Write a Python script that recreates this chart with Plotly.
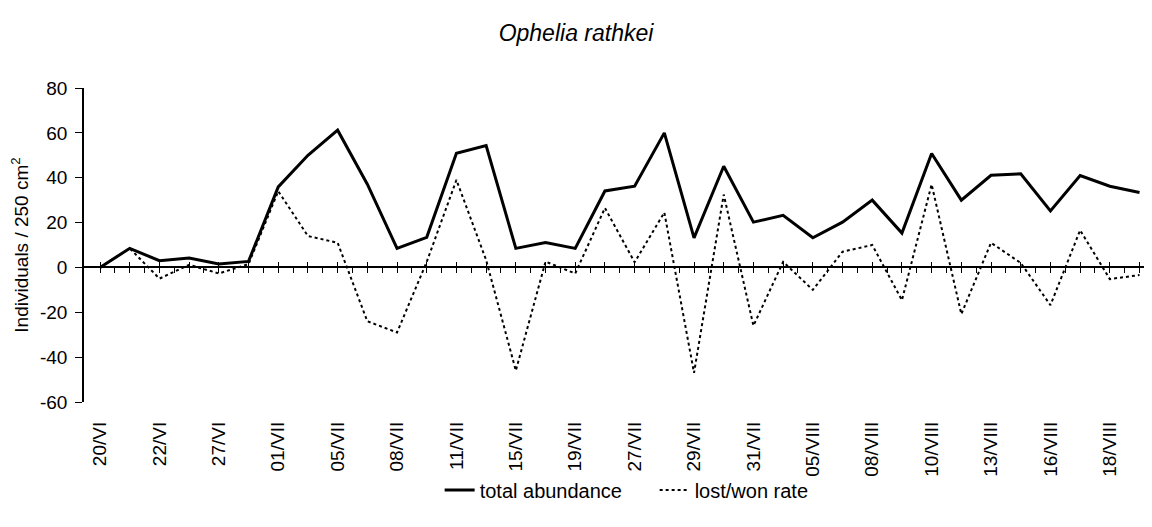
import plotly.graph_objects as go

# sampling dates (label shown on every second sample)
date_labels = ["20/VI", "22/VI", "27/VI", "01/VII", "05/VII", "08/VII", "11/VII",
               "15/VII", "19/VII", "27/VII", "29/VII", "31/VII", "05/VIII",
               "08/VIII", "10/VIII", "13/VIII", "16/VIII", "18/VIII"]

total_abundance = [0, 8.5, 3, 4.2, 1.5, 2.7, 35.9, 50, 61.2, 37.1, 8.5, 13.4,
                   50.9, 54.3, 8.5, 11.1, 8.5, 34.1, 36.2, 60, 13.2, 45.1, 20.2, 23.2,
                   13.2, 20.2, 30, 15.3, 50.8, 30, 41.1, 41.7, 25.2, 41, 36.2, 33.4]

lost_won_rate = [0, 8.5, -5, 1.2, -2.7, 1.5, 34, 14, 11, -24, -29, 2.5,
                 39, 3.3, -46, 2.6, -2.7, 26.5, 2.3, 24.5, -47, 32.5, -26, 2.5,
                 -10, 7, 10, -14.6, 37, -20.8, 11, 2, -16.8, 16.6, -5.2, -3.4]

y_ticks = [-60, -40, -20, 0, 20, 40, 60, 80]

x = list(range(len(total_abundance)))
label_pos = [2 * i for i in range(len(date_labels))]
half_steps = [i / 2 for i in range(2 * len(x) - 1)]

FONT = "Liberation Sans, Arial, sans-serif"
# page body has an 8px margin, so the figure is a bit smaller than the window
W, H = 1144, 519
x_range = [-0.54, 35.42]
y_lo, y_hi = y_ticks[0], y_ticks[-1]
zero_pos = (0 - y_lo) / (y_hi - y_lo)

fig = go.Figure()
fig.add_trace(go.Scatter(x=x, y=total_abundance, mode="lines", name="total abundance",
                         line=dict(color="black", width=3)))
fig.add_trace(go.Scatter(x=x, y=lost_won_rate, mode="lines", name="lost/won rate",
                         line=dict(color="black", width=2, dash="3px,3px")))

fig.update_layout(
    width=W, height=H,
    margin=dict(l=76, r=0, t=80, b=125),
    paper_bgcolor="white", plot_bgcolor="white",
    font=dict(family=FONT, size=19, color="black"),
    title=dict(text="<i>Ophelia rathkei</i>", x=568 / W, xref="container", xanchor="center",
               y=1 - 25 / H, yanchor="middle", font=dict(size=23)),
    showlegend=True,
    legend=dict(orientation="h", x=0.333, xanchor="left", y=-0.28, yanchor="middle",
                entrywidth=170, entrywidthmode="pixels",
                font=dict(size=20), bgcolor="rgba(0,0,0,0)"),
    xaxis=dict(range=x_range, tickmode="array", tickvals=label_pos, ticktext=date_labels,
               tickangle=-90, ticks="", showline=False, showgrid=False, zeroline=False,
               ticklabelstandoff=15, tickfont=dict(size=19), automargin=False),
    xaxis2=dict(overlaying="x", anchor="free", position=zero_pos, side="bottom",
                range=x_range, tickmode="array", tickvals=half_steps, ticks="outside",
                ticklen=5, tickwidth=1, tickcolor="black", showticklabels=False,
                showline=True, linecolor="black", linewidth=1.5, showgrid=False,
                zeroline=False, automargin=False),
    xaxis3=dict(overlaying="x", anchor="free", position=zero_pos, side="top",
                range=x_range, tickmode="array", tickvals=x, ticks="outside",
                ticklen=5, tickwidth=1, tickcolor="black", showticklabels=False,
                showline=False, showgrid=False, zeroline=False, automargin=False),
    yaxis=dict(range=[y_lo, y_hi], tickmode="array", tickvals=y_ticks,
               ticktext=[str(v) for v in y_ticks], ticks="outside", ticklen=7,
               tickwidth=1, tickcolor="black", showline=True, linecolor="black",
               linewidth=1.5, showgrid=False, zeroline=False, ticklabelstandoff=4,
               tickfont=dict(size=19), automargin=False,
               title=dict(text="Individuals / 250 cm<sup>2</sup>", standoff=8,
                          font=dict(size=19))),
)

# invisible traces so the extra axes get drawn
fig.add_trace(go.Scatter(x=[0], y=[0], xaxis="x2", mode="markers",
                         marker=dict(opacity=0), showlegend=False, hoverinfo="skip"))
fig.add_trace(go.Scatter(x=[0], y=[0], xaxis="x3", mode="markers",
                         marker=dict(opacity=0), showlegend=False, hoverinfo="skip"))

fig.write_html("out.html")
